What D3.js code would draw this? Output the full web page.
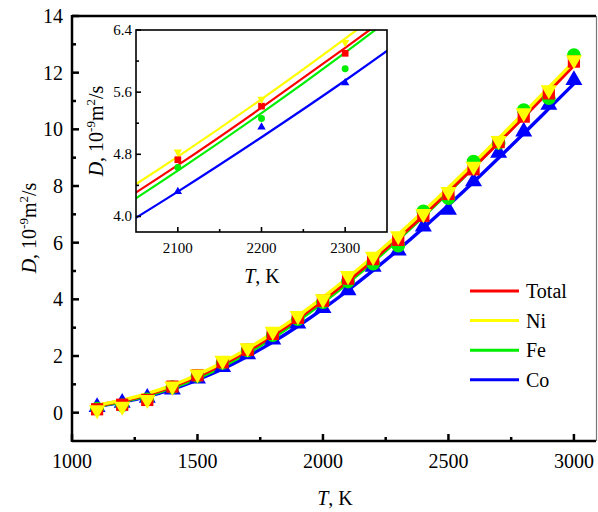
<!DOCTYPE html>
<html>
<head>
<meta charset="utf-8">
<script src="https://cdn.jsdelivr.net/npm/d3@7"></script>
<style>
    body { margin: 0; background: #fff; }
</style>
</head>
<body>
<svg id="chart" width="598" height="512"></svg>
<script>
// temperatures of the md points, K
const temps = [1100, 1200, 1300, 1400, 1500, 1600, 1700, 1800, 1900, 2000,
               2100, 2200, 2300, 2400, 2500, 2600, 2700, 2800, 2900, 3000];

// diffusion coefficients, 10^-9 m^2/s
const totalPts = [0.12, 0.28, 0.45, 0.92, 1.32, 1.78, 2.22, 2.78, 3.35, 3.95,
                  4.73, 5.42, 6.10, 6.95, 7.72, 8.59, 9.55, 10.45, 11.27, 12.39];
const niPts    = [0.10, 0.22, 0.46, 0.93, 1.36, 1.84, 2.28, 2.87, 3.42, 4.01,
                  4.83, 5.51, 6.24, 7.02, 7.80, 8.69, 9.60, 10.58, 11.39, 12.45];
const fePts    = [0.14, 0.26, 0.47, 0.90, 1.30, 1.76, 2.20, 2.74, 3.30, 3.90,
                  4.63, 5.26, 5.90, 7.10, 7.57, 8.86, 9.52, 10.68, 11.10, 12.62];
const coPts    = [0.20, 0.35, 0.52, 0.81, 1.20, 1.61, 2.06, 2.58, 3.14, 3.69,
                  4.32, 5.15, 5.72, 6.57, 7.16, 8.16, 9.17, 9.92, 10.86, 11.74];

// fitted curves, read at the same temperatures
const totalFit = [0.25, 0.42, 0.64, 0.93, 1.28, 1.70, 2.18, 2.72, 3.32, 3.97,
                  4.66, 5.40, 6.17, 6.97, 7.81, 8.66, 9.54, 10.43, 11.34, 12.26];
const niFit    = [0.26, 0.44, 0.67, 0.97, 1.34, 1.77, 2.26, 2.81, 3.41, 4.07,
                  4.77, 5.51, 6.29, 7.10, 7.94, 8.80, 9.68, 10.57, 11.48, 12.39];
const feFit    = [0.23, 0.39, 0.60, 0.88, 1.22, 1.63, 2.11, 2.64, 3.24, 3.89,
                  4.59, 5.33, 6.11, 6.93, 7.78, 8.66, 9.55, 10.47, 11.41, 12.35];
const coFit    = [0.22, 0.37, 0.57, 0.83, 1.16, 1.54, 1.99, 2.49, 3.05, 3.66,
                  4.32, 5.02, 5.75, 6.52, 7.32, 8.14, 8.99, 9.85, 10.73, 11.61];

const seriesNames = ["Total", "Ni", "Fe", "Co"];

// tick values
const mainXTicks = [1000, 1500, 2000, 2500, 3000];
const mainXMinor = [1250, 1750, 2250, 2750];
const mainYTicks = [0, 2, 4, 6, 8, 10, 12, 14];
const mainYMinor = [1, 3, 5, 7, 9, 11, 13];
const insetXTicks = [2100, 2200, 2300];
const insetXMinor = [2150, 2250];
const insetYTicks = [4.0, 4.8, 5.6, 6.4];
const insetYMinor = [4.4, 5.2, 6.0];

const series = [
    { name: "Co",    pts: coPts,    fit: coFit,    color: "#0000ff", sym: d3.symbolTriangle, rot: 0,   size: 125, small: 30 },
    { name: "Fe",    pts: fePts,    fit: feFit,    color: "#00ee00", sym: d3.symbolCircle,   rot: 0,   size: 150, small: 38 },
    { name: "Total", pts: totalPts, fit: totalFit, color: "#ff0000", sym: d3.symbolSquare,   rot: 0,   size: 150, small: 45 },
    { name: "Ni",    pts: niPts,    fit: niFit,    color: "#ffff00", sym: d3.symbolTriangle, rot: 180, size: 115, small: 30 }
];
const colorOf = Object.fromEntries(series.map(s => [s.name, s.color]));

const SERIF = "Liberation Serif";
const svg = d3.select("#chart");

// helper so every text gets the serif font directly
function addText(parent) {
    return parent.append("text").attr("font-family", SERIF).attr("fill", "#000");
}

// ---- main plot ----
const x = d3.scaleLinear().domain([1000, 3088]).range([72, 596]);
const y = d3.scaleLinear().domain([-1, 14]).range([441, 16]);

const mainG = svg.append("g");

function lineFor(xs, ys) {
    return d3.line()
        .x((d, i) => xs(temps[i]))
        .y(d => ys(d))
        .curve(d3.curveNatural);
}

// fit lines first, markers on top
series.forEach(s => {
    mainG.append("path")
        .attr("d", lineFor(x, y)(s.fit))
        .attr("fill", "none")
        .attr("stroke", s.color)
        .attr("stroke-width", 3.4);
});
series.forEach(s => {
    mainG.append("g")
        .selectAll("path")
        .data(s.pts)
        .join("path")
        .attr("d", d3.symbol().type(s.sym).size(s.size))
        .attr("transform", (d, i) => `translate(${x(temps[i])},${y(d)}) rotate(${s.rot})`)
        .attr("fill", s.color);
});

// frame
const axisG = svg.append("g").attr("stroke", "#000");
axisG.append("line").attr("x1", 72).attr("x2", 596).attr("y1", 16).attr("y2", 16).attr("stroke-width", 2.5);
axisG.append("line").attr("x1", 72).attr("x2", 596).attr("y1", 441).attr("y2", 441).attr("stroke-width", 2.5);
axisG.append("line").attr("x1", 72).attr("x2", 72).attr("y1", 15).attr("y2", 442).attr("stroke-width", 2.5);
axisG.append("line").attr("x1", 596.5).attr("x2", 596.5).attr("y1", 16).attr("y2", 441)
    .attr("stroke", "#777").attr("stroke-width", 1.2);

// ticks point inward
axisG.selectAll(".xt").data(mainXTicks).join("line")
    .attr("x1", d => x(d)).attr("x2", d => x(d)).attr("y1", 441).attr("y2", 434).attr("stroke-width", 2.5);
axisG.selectAll(".xm").data(mainXMinor).join("line")
    .attr("x1", d => x(d)).attr("x2", d => x(d)).attr("y1", 441).attr("y2", 437).attr("stroke-width", 2.5);
axisG.selectAll(".yt").data(mainYTicks).join("line")
    .attr("x1", 72).attr("x2", 79).attr("y1", d => y(d)).attr("y2", d => y(d)).attr("stroke-width", 2.5);
axisG.selectAll(".ym").data(mainYMinor).join("line")
    .attr("x1", 72).attr("x2", 76).attr("y1", d => y(d)).attr("y2", d => y(d)).attr("stroke-width", 2.5);

svg.append("g").selectAll("text").data(mainXTicks).join("text")
    .attr("font-family", SERIF)
    .attr("x", d => x(d)).attr("y", 468)
    .attr("text-anchor", "middle").attr("font-size", 20)
    .text(d => d);
svg.append("g").selectAll("text").data(mainYTicks).join("text")
    .attr("font-family", SERIF)
    .attr("x", 63).attr("y", d => y(d) + 7)
    .attr("text-anchor", "end").attr("font-size", 20)
    .text(d => d);

// axis titles
const xTitle = addText(svg).attr("x", 335).attr("y", 505)
    .attr("text-anchor", "middle").attr("font-size", 20);
xTitle.append("tspan").attr("font-style", "italic").text("T");
xTitle.append("tspan").text(", K");

function dLabel(sel, big, small) {
    sel.append("tspan").attr("font-style", "italic").text("D");
    sel.append("tspan").text(", 10");
    sel.append("tspan").attr("font-size", small).attr("dy", -big * 0.4).text("-9");
    sel.append("tspan").attr("dy", big * 0.4).text("m");
    sel.append("tspan").attr("font-size", small).attr("dy", -big * 0.4).text("2");
    sel.append("tspan").attr("dy", big * 0.4).text("/s");
}
const yTitle = addText(svg)
    .attr("transform", "translate(36,228) rotate(-90)")
    .attr("text-anchor", "middle").attr("font-size", 20);
dLabel(yTitle, 20, 13);

// ---- legend ----
const legend = svg.append("g");
seriesNames.forEach((name, i) => {
    const ly = 291 + i * 29.6;
    legend.append("line")
        .attr("x1", 470).attr("x2", 519).attr("y1", ly).attr("y2", ly)
        .attr("stroke", colorOf[name]).attr("stroke-width", 3);
    addText(legend)
        .attr("x", 526).attr("y", ly + 7)
        .attr("font-size", 20)
        .text(name);
});

// ---- inset ----
const ix = d3.scaleLinear().domain([2050, 2350]).range([136, 387]);
const iy = d3.scaleLinear().domain([3.8, 6.4]).range([232, 30]);

const insetG = svg.append("g");
insetG.append("rect").attr("x", 136).attr("y", 30).attr("width", 251).attr("height", 202).attr("fill", "#fff");

svg.append("clipPath").attr("id", "inset-clip")
    .append("rect").attr("x", 136).attr("y", 30).attr("width", 251).attr("height", 202);

const insetData = insetG.append("g").attr("clip-path", "url(#inset-clip)");
series.forEach(s => {
    insetData.append("path")
        .attr("d", lineFor(ix, iy)(s.fit))
        .attr("fill", "none")
        .attr("stroke", s.color)
        .attr("stroke-width", 2.2);
});
series.forEach(s => {
    insetData.append("g")
        .selectAll("path")
        .data(s.pts)
        .join("path")
        .attr("d", d3.symbol().type(s.sym).size(s.small))
        .attr("transform", (d, i) => `translate(${ix(temps[i])},${iy(d)}) rotate(${s.rot})`)
        .attr("fill", s.color);
});

insetG.append("rect").attr("x", 136).attr("y", 30).attr("width", 251).attr("height", 202)
    .attr("fill", "none").attr("stroke", "#000").attr("stroke-width", 1.6);

const insetAxis = insetG.append("g").attr("stroke", "#000").attr("stroke-width", 1.6);
insetAxis.selectAll(".ixt").data(insetXTicks).join("line")
    .attr("x1", d => ix(d)).attr("x2", d => ix(d)).attr("y1", 232).attr("y2", 227);
insetAxis.selectAll(".ixm").data(insetXMinor).join("line")
    .attr("x1", d => ix(d)).attr("x2", d => ix(d)).attr("y1", 232).attr("y2", 229);
insetAxis.selectAll(".iyt").data(insetYTicks).join("line")
    .attr("x1", 136).attr("x2", 141).attr("y1", d => iy(d)).attr("y2", d => iy(d));
insetAxis.selectAll(".iym").data(insetYMinor).join("line")
    .attr("x1", 136).attr("x2", 139).attr("y1", d => iy(d)).attr("y2", d => iy(d));

insetG.append("g").selectAll("text").data(insetXTicks).join("text")
    .attr("font-family", SERIF)
    .attr("x", d => ix(d)).attr("y", 253)
    .attr("text-anchor", "middle").attr("font-size", 15)
    .text(d => d);
insetG.append("g").selectAll("text").data(insetYTicks).join("text")
    .attr("font-family", SERIF)
    .attr("x", 132).attr("y", d => iy(d) + 5)
    .attr("text-anchor", "end").attr("font-size", 15)
    .text(d => d.toFixed(1));

const ixTitle = addText(insetG).attr("x", 262).attr("y", 283)
    .attr("text-anchor", "middle").attr("font-size", 20);
ixTitle.append("tspan").attr("font-style", "italic").text("T");
ixTitle.append("tspan").text(", K");

const iyTitle = addText(insetG)
    .attr("transform", "translate(103,131) rotate(-90)")
    .attr("text-anchor", "middle").attr("font-size", 20);
dLabel(iyTitle, 20, 13);
</script>
</body>
</html>
